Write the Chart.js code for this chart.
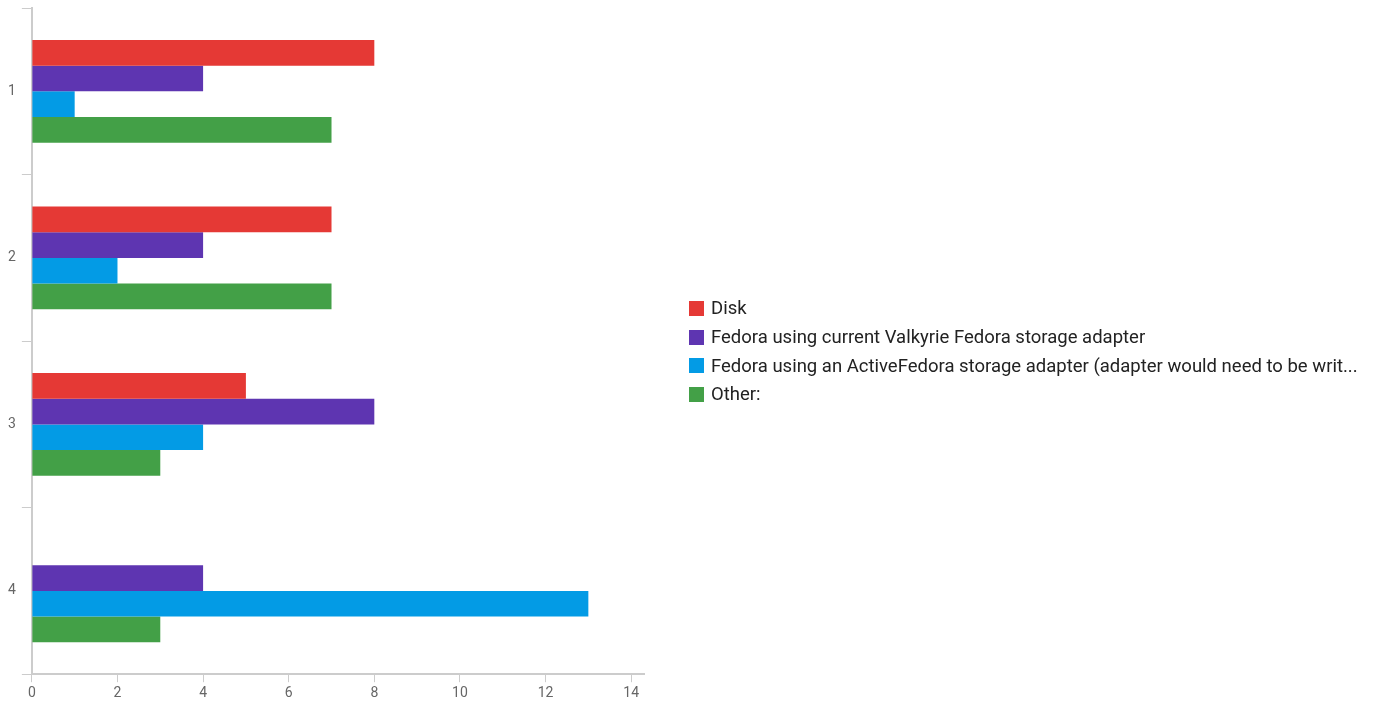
<!DOCTYPE html>
<html>
<head>
<meta charset="utf-8">
<script src="https://cdn.jsdelivr.net/npm/chart.js@4"></script>
<style>
  html, body { margin: 0; padding: 0; background: #fff; }
  #wrap { position: relative; width: 1377px; height: 702px; }
  #legend {
    position: absolute; left: 689px; top: 294px;
    font-family: Roboto, "Noto Sans", sans-serif; font-size: 18.5px; color: #222;
  }
  .legend-item { display: flex; align-items: center; height: 28.7px; white-space: nowrap; }
  .legend-box { width: 15px; height: 15px; margin-right: 7px; }
</style>
</head>
<body>
<div id="wrap">
  <canvas id="chart" width="1377" height="702"></canvas>
  <div id="legend"></div>
</div>
<script>
// Categories and answer counts per storage option
const categories = ['1', '2', '3', '4'];
const seriesNames = [
  'Disk',
  'Fedora using current Valkyrie Fedora storage adapter',
  'Fedora using an ActiveFedora storage adapter (adapter would need to be writ...',
  'Other:'
];
const diskValues = [8, 7, 5, 0];
const valkyrieValues = [4, 4, 8, 4];
const activeFedoraValues = [1, 2, 4, 13];
const otherValues = [7, 7, 3, 3];
const xTicks = [0, 2, 4, 6, 8, 10, 12, 14];

const COLORS = ['#E53935', '#5E35B1', '#039BE5', '#43A047'];
const AXIS_COLOR = '#cccccc';
const LABEL_COLOR = '#666666';

const seriesValues = [diskValues, valkyrieValues, activeFedoraValues, otherValues];

const datasets = seriesNames.map((name, i) => ({
  label: name,
  data: seriesValues[i],
  backgroundColor: COLORS[i],
  borderWidth: 0,
  categoryPercentage: 0.616,
  barPercentage: 1.0
}));

const chart = new Chart(document.getElementById('chart'), {
  type: 'bar',
  data: { labels: categories, datasets: datasets },
  options: {
    indexAxis: 'y',
    responsive: false,
    animation: false,
    layout: { padding: { top: 0, left: 2, right: 733, bottom: -3 } },
    plugins: {
      legend: { display: false },
      tooltip: { enabled: false }
    },
    scales: {
      x: {
        min: 0,
        max: 14.3,
        afterBuildTicks: axis => {
          axis.ticks = xTicks.map(v => ({ value: v }));
        },
        grid: {
          drawOnChartArea: false,
          drawTicks: true,
          tickLength: 8,
          color: AXIS_COLOR
        },
        border: { color: AXIS_COLOR, width: 2 },
        ticks: {
          color: LABEL_COLOR,
          padding: 3,
          font: { family: 'Roboto', size: 14 }
        }
      },
      y: {
        grid: {
          offset: true,
          drawOnChartArea: false,
          drawTicks: true,
          tickLength: 10,
          color: AXIS_COLOR
        },
        border: { color: AXIS_COLOR, width: 2 },
        ticks: {
          color: LABEL_COLOR,
          padding: 6,
          // small line height keeps the plot close to the top edge
          font: { family: 'Roboto', size: 14, lineHeight: 0.3 }
        }
      }
    }
  }
});

// HTML legend on the right
const legendEl = document.getElementById('legend');
seriesNames.forEach((name, i) => {
  const item = document.createElement('div');
  item.className = 'legend-item';
  const box = document.createElement('span');
  box.className = 'legend-box';
  box.style.background = COLORS[i];
  const text = document.createElement('span');
  text.textContent = name;
  item.appendChild(box);
  item.appendChild(text);
  legendEl.appendChild(item);
});
</script>
</body>
</html>
